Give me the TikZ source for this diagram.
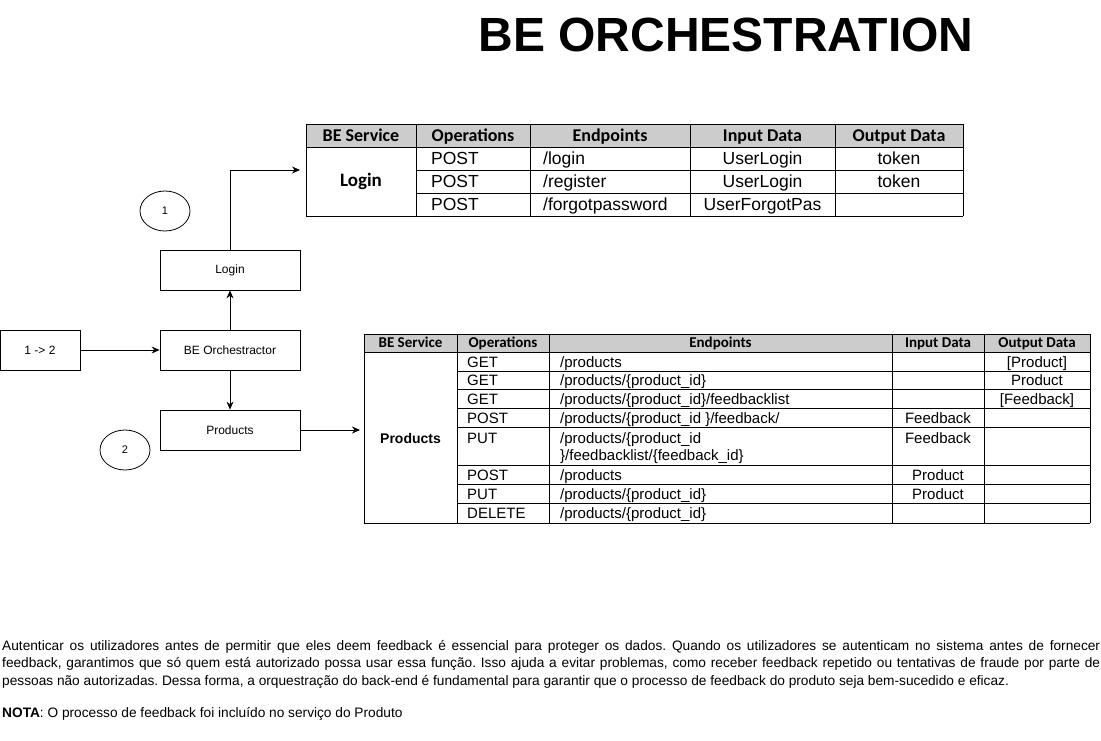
\documentclass[tikz,border=0pt]{standalone}
\usepackage{fontspec}
\setmainfont{Liberation Sans}
\newfontfamily\calibri{Carlito}
\usetikzlibrary{arrows.meta,positioning,shapes.geometric}

\begin{document}
\begin{tikzpicture}[x=1pt,y=-1pt,
    caixa/.style={draw,line width=0.8pt,minimum width=140pt,minimum height=40pt,inner sep=0pt,font=\fontsize{12}{14}\selectfont},
    circulo/.style={draw,ellipse,line width=0.8pt,minimum width=50pt,minimum height=40pt,inner sep=0pt,font=\fontsize{11}{13}\selectfont},
    seta/.style={-{Stealth[length=8pt,width=7pt]},line width=0.8pt},
    linha/.style={line width=0.8pt},
    cabA/.style={anchor=base,inner sep=0pt,font=\calibri\bfseries\fontsize{18}{20}\selectfont},
    cabB/.style={anchor=base,inner sep=0pt,font=\calibri\bfseries\fontsize{15}{17}\selectfont},
    txtA/.style={inner sep=0pt,font=\fontsize{17.5}{20}\selectfont},
    txtB/.style={inner sep=0pt,font=\fontsize{15}{17}\selectfont},
]

    \useasboundingbox (0,0) rectangle (1101,740);

    %Titulo
    \node[font=\bfseries\fontsize{48}{52}\selectfont] (titulo) at (726,35) {BE ORCHESTRATION};

    %Fluxo
    \node[caixa,minimum width=80pt] (seq) at (40,350) {1 -> 2};
    \node[caixa] (orq) at (230,350) {BE Orchestractor};
    \node[caixa] (login) at (230,270) {Login};
    \node[caixa] (prod) at (230,430) {Products};
    \node[circulo] (c1) at (165,211) {1};
    \node[circulo] (c2) at (125,450) {2};
    \coordinate (t1in) at (300,170);
    \coordinate (t2in) at (360,430);

    \draw[seta] (seq) -- (orq);
    \draw[seta] (orq) -- (login);
    \draw[seta] (orq) -- (prod);
    \draw[seta] (login.north) |- (t1in);
    \draw[seta] (prod) -- (t2in);

    %Tabela Login
    \fill[gray!40] (306,124) rectangle (963,147);
    \foreach \x in {306,416,530,690,835,963}
        \draw[linha] (\x,124) -- (\x,216);
    \foreach \y in {124,147,216}
        \draw[linha] (306,\y) -- (963,\y);
    \foreach \y in {170,193}
        \draw[linha] (416,\y) -- (963,\y);
    \foreach \x/\t [count=\i] in {361/BE Service,473/Operations,610/Endpoints,762.5/Input Data,899/Output Data}
        \node[cabA] (hA\i) at (\x,141.5) {\t};
    \node[inner sep=0pt,font=\calibri\bfseries\fontsize{19}{21}\selectfont] (sA) at (361,181.5) {Login};
    \foreach \y/\op/\ep/\inp/\outp [count=\i] in {164.5/POST/{/login}/UserLogin/token,187.5/POST/{/register}/UserLogin/token,210.5/POST/{/forgotpassword}/UserForgotPas/{}}{
        \node[txtA,anchor=base west] (opA\i) at (431,\y) {\op};
        \node[txtA,anchor=base west] (epA\i) at (543,\y) {\ep};
        \node[txtA,anchor=base] (inA\i) at (762.5,\y) {\inp};
        \node[txtA,anchor=base] (outA\i) at (899,\y) {\outp};
    }

    %Tabela Products
    \fill[gray!40] (364,334) rectangle (1090,352);
    \foreach \x in {364,457,549,892,984,1090}
        \draw[linha] (\x,334) -- (\x,523);
    \foreach \y in {334,352,523}
        \draw[linha] (364,\y) -- (1090,\y);
    \foreach \y in {371,389,408,427,465,484,503}
        \draw[linha] (457,\y) -- (1090,\y);
    \foreach \x/\t [count=\i] in {410.5/BE Service,503/Operations,720.5/Endpoints,938/Input Data,1037/Output Data}
        \node[cabB] (hB\i) at (\x,347.8) {\t};
    \node[inner sep=0pt,font=\bfseries\fontsize{14}{16}\selectfont] (sB) at (410.5,438) {Products};
    \foreach \y/\op/\ep/\inp/\outp [count=\i] in {
        367/GET/{/products}/{}/{[Product]},
        385.5/GET/{/products/\{product\_id\}}/{}/Product,
        404/GET/{/products/\{product\_id\}/feedbacklist}/{}/{[Feedback]},
        423/POST/{/products/\{product\_id \}/feedback/}/Feedback/{},
        443.5/PUT/{/products/\{product\_id}/Feedback/{},
        480/POST/{/products}/Product/{},
        499/PUT/{/products/\{product\_id\}}/Product/{},
        518.5/DELETE/{/products/\{product\_id\}}/{}/{}}{
        \node[txtB,anchor=base west] (opB\i) at (467,\y) {\op};
        \node[txtB,anchor=base west] (epB\i) at (560,\y) {\ep};
        \node[txtB,anchor=base] (inB\i) at (938,\y) {\inp};
        \node[txtB,anchor=base] (outB\i) at (1037,\y) {\outp};
    }
    \node[txtB,anchor=base west] (epB5b) at (560,460.5) {\}/feedbacklist/\{feedback\_id\}};

    %Texto
    \node[anchor=north west,inner sep=0pt,text width=1098pt,align=justify,font=\fontsize{13.7}{17.5}\selectfont] (nota) at (2,637.7) {\frenchspacing\hyphenpenalty=10000\strut Autenticar os utilizadores antes de permitir que eles deem feedback é essencial para proteger os dados. Quando os utilizadores se autenticam no sistema antes de fornecer\linebreak feedback, garantimos que só quem está autorizado possa usar essa função. Isso ajuda a evitar problemas, como receber feedback repetido ou tentativas de fraude por parte de\linebreak pessoas não autorizadas. Dessa forma, a orquestração do back-end é fundamental para garantir que o processo de feedback do produto seja bem-sucedido e eficaz.\par\vspace{14.5pt}
    \textbf{NOTA}: O processo de feedback foi incluído no serviço do Produto};

\end{tikzpicture}
\end{document}
